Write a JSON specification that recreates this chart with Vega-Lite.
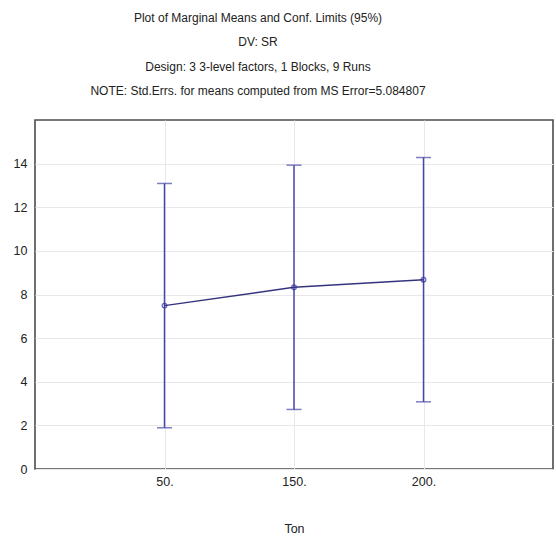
{
  "$schema": "https://vega.github.io/schema/vega-lite/v6.json",
  "autosize": {"type": "none"},
  "width": 518,
  "height": 349,
  "padding": {"left": 35, "top": 120, "right": 3, "bottom": 69},
  "background": "white",
  "config": {
    "font": "Liberation Sans",
    "view": {"stroke": "#4d4d4d", "strokeWidth": 1.6},
    "axis": {
      "labelFont": "Liberation Sans",
      "titleFont": "Liberation Sans",
      "labelFontSize": 12.5,
      "titleFontSize": 12.5,
      "labelColor": "#222222",
      "titleColor": "#222222",
      "titleFontWeight": "normal",
      "gridColor": "#e8e8e8",
      "gridWidth": 1,
      "domain": false,
      "ticks": false
    }
  },
  "title": {
    "text": [
      "Plot of Marginal Means and Conf. Limits (95%)",
      "DV: SR",
      "Design: 3 3-level factors, 1 Blocks, 9 Runs",
      "NOTE: Std.Errs. for means computed from MS Error=5.084807"
    ],
    "font": "Liberation Sans",
    "fontSize": 12,
    "fontWeight": "normal",
    "color": "#222222",
    "lineHeight": 24.5,
    "anchor": "middle",
    "dx": -36,
    "offset": 22
  },
  "data": {
    "values": [
      {"Ton": "50.", "mean": 7.49, "lo": 1.89, "hi": 13.09},
      {"Ton": "150.", "mean": 8.33, "lo": 2.73, "hi": 13.93},
      {"Ton": "200.", "mean": 8.68, "lo": 3.08, "hi": 14.28}
    ]
  },
  "encoding": {
    "x": {
      "field": "Ton",
      "type": "ordinal",
      "sort": null,
      "scale": {"type": "point", "padding": 1},
      "axis": {"labelAngle": 0, "grid": true, "labelPadding": 6, "titlePadding": 35, "title": "Ton"}
    }
  },
  "layer": [
    {
      "mark": {"type": "rule", "color": "#4747a8", "strokeWidth": 1.5},
      "encoding": {
        "y": {
          "field": "lo",
          "type": "quantitative",
          "scale": {"domain": [0, 16], "nice": false},
          "axis": {"values": [0, 2, 4, 6, 8, 10, 12, 14], "grid": true, "labelPadding": 8, "title": null}
        },
        "y2": {"field": "hi"}
      }
    },
    {
      "mark": {"type": "tick", "color": "#4747a8", "size": 15, "thickness": 1.5, "orient": "horizontal"},
      "encoding": {"y": {"field": "lo", "type": "quantitative"}}
    },
    {
      "mark": {"type": "tick", "color": "#4747a8", "size": 15, "thickness": 1.5, "orient": "horizontal"},
      "encoding": {"y": {"field": "hi", "type": "quantitative"}}
    },
    {
      "mark": {"type": "line", "color": "#34347e", "strokeWidth": 1.5},
      "encoding": {"y": {"field": "mean", "type": "quantitative"}}
    },
    {
      "mark": {"type": "point", "shape": "circle", "filled": false, "color": "#2c2ca0", "size": 22, "strokeWidth": 1.3},
      "encoding": {"y": {"field": "mean", "type": "quantitative"}}
    }
  ]
}
